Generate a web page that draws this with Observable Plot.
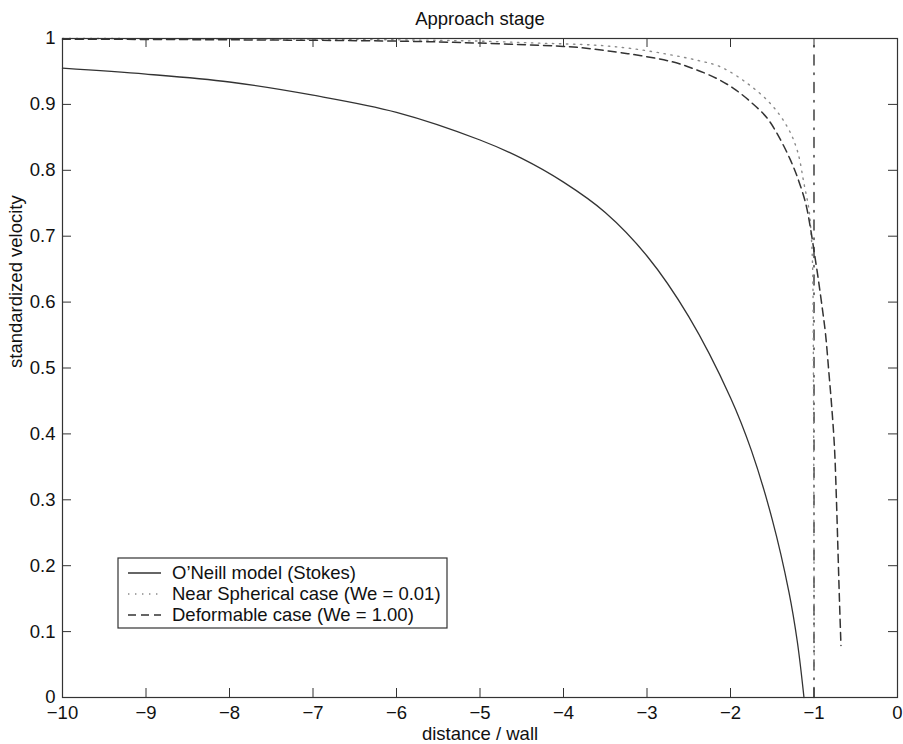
<!DOCTYPE html>
<html>
<head>
<meta charset="utf-8">
<script src="https://cdn.jsdelivr.net/npm/d3@7"></script>
<script src="https://cdn.jsdelivr.net/npm/@observablehq/plot@0.6"></script>
<style>
  html, body { margin: 0; padding: 0; background: #fff; }
  #chart { position: relative; width: 903px; height: 744px; }
</style>
</head>
<body>
<div id="chart"></div>
<script>
// ---- data ----
const titleText = "Approach stage";
const xLabel = "distance / wall";
const yLabel = "standardized velocity";

const xTicks = [-10, -9, -8, -7, -6, -5, -4, -3, -2, -1, 0];
const yTicks = [0, 0.1, 0.2, 0.3, 0.4, 0.5, 0.6, 0.7, 0.8, 0.9, 1];

const seriesNames = [
  "O’Neill model (Stokes)",
  "Near Spherical case (We = 0.01)",
  "Deformable case (We = 1.00)"
];

// O'Neill model (Stokes) – solid
const oneillX = [-10, -9, -8, -7, -6, -5, -4.5, -4, -3.5, -3, -2.5, -2, -1.75, -1.5, -1.3, -1.2, -1.12];
const oneillY = [0.955, 0.946, 0.934, 0.914, 0.888, 0.846, 0.818, 0.782, 0.736, 0.670, 0.578, 0.455, 0.375, 0.270, 0.160, 0.085, 0.0];

// Near spherical case (We = 0.01) – dotted
const nearX = [-10, -8, -6, -5, -4.3, -3.63, -3.2, -2.75, -2.4, -2.12, -1.80, -1.52, -1.32, -1.20, -1.12, -1.06, -1.035, -1.017, -1.007, -1.001, -0.997];
const nearY = [1.0, 0.9995, 0.998, 0.996, 0.993, 0.990, 0.985, 0.976, 0.967, 0.957, 0.932, 0.901, 0.866, 0.830, 0.780, 0.740, 0.705, 0.655, 0.500, 0.250, 0.040];

// Deformable case (We = 1.00) – dashed
const defX = [-10, -8, -6, -5, -4, -3.79, -3.23, -2.71, -2.44, -2.16, -1.96, -1.76, -1.56, -1.40, -1.28, -1.20, -1.10, -1.05, -1.0, -0.95, -0.90, -0.863, -0.821, -0.787, -0.755, -0.731, -0.713, -0.695, -0.677];
const defY = [0.999, 0.998, 0.996, 0.993, 0.988, 0.986, 0.977, 0.965, 0.954, 0.939, 0.924, 0.904, 0.879, 0.846, 0.815, 0.790, 0.750, 0.718, 0.678, 0.636, 0.590, 0.553, 0.492, 0.440, 0.380, 0.299, 0.223, 0.147, 0.079];

// wall position – dash-dot vertical
const wallX = [-1, -1];
const wallY = [0, 1];

// ---- build tables ----
const zip = (xs, ys) => xs.map((x, i) => ({x, y: ys[i]}));
const oneill = zip(oneillX, oneillY);
const near = zip(nearX, nearY);
const deform = zip(defX, defY);
const wall = zip(wallX, wallY);

const W = 903, H = 744;
const mL = 62, mR = 6, mT = 38, mB = 47;
const pw = W - mL - mR, ph = H - mT - mB;
const tick = 9;
const fs = 18.5;
const font = "'Liberation Sans', Arial, Helvetica, sans-serif";

const styles = {
  solid:  {stroke: "#333", strokeWidth: 1.3},
  dotted: {stroke: "#8a8a8a", strokeWidth: 1.4, strokeDasharray: "1.4,5.6"},
  dashed: {stroke: "#333", strokeWidth: 1.5, strokeDasharray: "8,5"},
  dashdot:{stroke: "#222", strokeWidth: 1.3, strokeDasharray: "10,8,1.5,8"}
};

const fmtY = d => String(d);
const fmtX = d => d < 0 ? "\u2212" + (-d) : String(d);

const chart = Plot.plot({
  width: W, height: H,
  marginLeft: mL, marginRight: mR, marginTop: mT, marginBottom: mB,
  style: {fontFamily: font, fontSize: fs + "px", color: "#111", background: "#fff"},
  x: {domain: [-10, 0], ticks: xTicks, tickFormat: fmtX},
  y: {domain: [0, 1], ticks: yTicks, tickFormat: fmtY},
  marks: [
    Plot.lineY(wall, {x: "x", y: "y", ...styles.dashdot}),
    Plot.line(oneill, {x: "x", y: "y", curve: "catmull-rom", ...styles.solid}),
    Plot.line(near, {x: "x", y: "y", curve: "catmull-rom", ...styles.dotted}),
    Plot.line(deform, {x: "x", y: "y", curve: "catmull-rom", ...styles.dashed}),
    // inward ticks on all four sides
    Plot.ruleX(xTicks.slice(1, -1), {stroke: "#333", strokeWidth: 1, insetTop: ph - tick}),
    Plot.ruleX(xTicks.slice(1, -1), {stroke: "#333", strokeWidth: 1, insetBottom: ph - tick}),
    Plot.ruleY(yTicks.slice(1, -1), {stroke: "#333", strokeWidth: 1, insetRight: pw - tick}),
    Plot.ruleY(yTicks.slice(1, -1), {stroke: "#333", strokeWidth: 1, insetLeft: pw - tick}),
    Plot.frame({stroke: "#333", strokeWidth: 1.2}),
    Plot.axisX(xTicks, {tickSize: 0, tickPadding: 8, tickFormat: fmtX, label: null, fontSize: fs}),
    Plot.axisY(yTicks, {tickSize: 0, tickPadding: 7, tickFormat: fmtY, label: null, fontSize: fs}),
    Plot.text([titleText], {frameAnchor: "top", dy: -14, lineAnchor: "bottom", fontSize: fs, fill: "#111"}),
    Plot.text([xLabel], {frameAnchor: "bottom", dy: 37, lineAnchor: "middle", fontSize: fs, fill: "#111"}),
    Plot.text([yLabel], {frameAnchor: "left", dx: -46, rotate: -90, lineAnchor: "middle", fontSize: fs, fill: "#111"})
  ]
});

document.getElementById("chart").appendChild(chart);

// ---- legend (inside the SVG, MATLAB style box) ----
const svg = d3.select(chart);
const lg = svg.append("g").attr("class", "legend")
  .attr("font-family", font).attr("font-size", fs).attr("text-anchor", "start");
const lx = 118, ly = 558, lw = 329, lh = 70;
lg.append("rect").attr("x", lx).attr("y", ly).attr("width", lw).attr("height", lh)
  .attr("fill", "#fff").attr("stroke", "#333").attr("stroke-width", 1.2);
const legendStyles = [styles.solid, styles.dotted, styles.dashed];
seriesNames.forEach((name, i) => {
  const cy = ly + 15 + i * 21;
  const s = legendStyles[i];
  lg.append("line").attr("x1", lx + 10).attr("x2", lx + 43).attr("y1", cy).attr("y2", cy)
    .attr("stroke", s.stroke).attr("stroke-width", s.strokeWidth)
    .attr("stroke-dasharray", s.strokeDasharray || null);
  lg.append("text").attr("x", lx + 54).attr("y", cy).attr("dy", "0.35em")
    .attr("text-anchor", "start").attr("fill", "#111").text(name);
});
</script>
</body>
</html>
